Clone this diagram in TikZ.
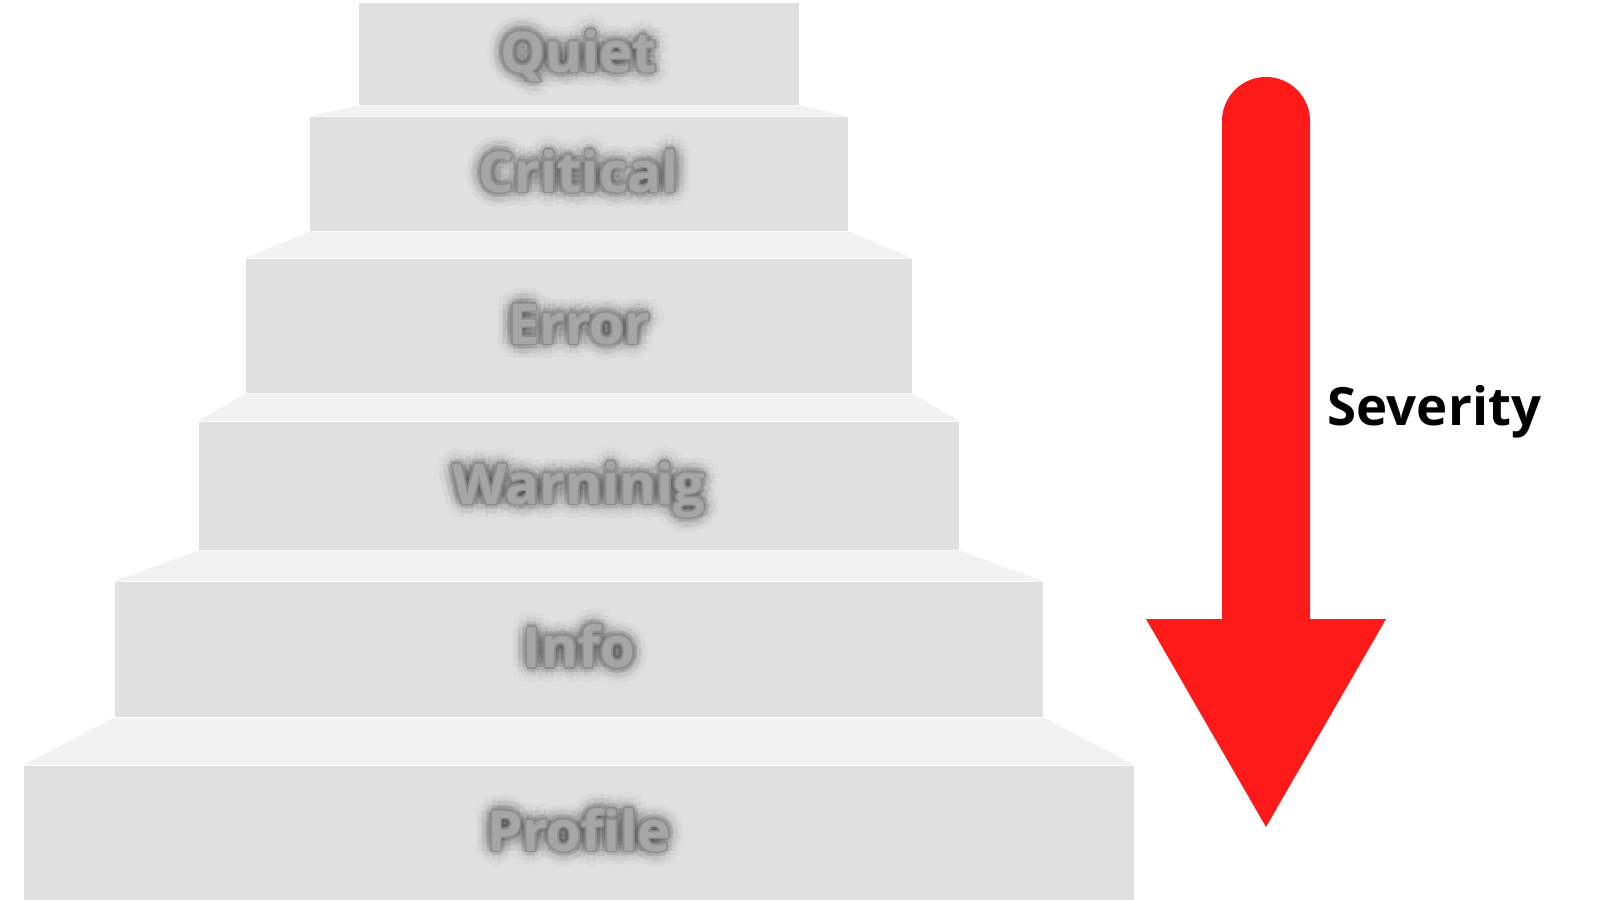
\documentclass[tikz,border=0pt]{standalone}
\usepackage{fontspec}
\setmainfont{Open Sans}
\usetikzlibrary{positioning, calc}

\definecolor{riser}{HTML}{E0E0E0}
\definecolor{tread}{HTML}{F2F2F2}
\definecolor{labelgray}{HTML}{A6A6A6}
\definecolor{labeledge}{HTML}{8E8E8E}
\definecolor{arrowred}{HTML}{FF1A1A}

% blurred grey label on a step
\newcommand{\glowlabel}[2]{%
  \foreach \rad/\op in {4.5pt/0.018, 3pt/0.03, 1.6pt/0.05}{
    \foreach \ang in {0,30,...,330}
      \node[labeltext, text=black, opacity=\op] at ([shift={(\ang:\rad)}]#1) {#2};
  }
  \foreach \ang in {0,60,...,300}
    \node[labeltext, text=labeledge] at ([shift={(\ang:0.5pt)}]#1) {#2};
  \node[labeltext, text=labelgray] at (#1) {#2};
}

\begin{document}
\begin{tikzpicture}[x=0.01cm, y=-0.01cm,
  stepbox/.style={rectangle, fill=riser, inner sep=0pt},
  labeltext/.style={anchor=base, inner sep=0pt, font=\bfseries\fontsize{16}{16}\selectfont}]

  \useasboundingbox (0,0) rectangle (1600,900);

  \node[stepbox, minimum width=4.4cm,  minimum height=1.02cm] (quiet)    at (579,54)    {};
  \node[stepbox, minimum width=5.38cm, minimum height=1.14cm] (critical) at (579,174)   {};
  \node[stepbox, minimum width=6.66cm, minimum height=1.34cm] (error)    at (579,326)   {};
  \node[stepbox, minimum width=7.6cm,  minimum height=1.28cm] (warning)  at (579,486)   {};
  \node[stepbox, minimum width=9.28cm, minimum height=1.35cm] (info)     at (579,649.5) {};
  \node[stepbox, minimum width=11.1cm, minimum height=1.34cm] (profile)  at (579,833)   {};

  \foreach \up/\down in {quiet/critical, critical/error, error/warning, warning/info, info/profile}
    \fill[tread] (\up.south west) -- (\up.south east) -- (\down.north east) -- (\down.north west) -- cycle;

  \foreach \s/\txt in {quiet/Quiet, critical/Critical, error/Error, warning/Warninig, info/Info, profile/Profile}{
    \coordinate (\s-l) at ([yshift=-0.18cm]\s.center);
    \glowlabel{\s-l}{\txt}
  }

  \fill[arrowred] (1222,619) -- (1222,121) arc[start angle=180, end angle=0, radius=0.44cm]
    -- (1310,619) -- (1386,619) -- (1266,827) -- (1146,619) -- cycle;
  \node[anchor=base west, inner sep=0pt, font=\bfseries\fontsize{15}{15}\selectfont] (severity) at (1327,425) {Severity};
\end{tikzpicture}
\end{document}
